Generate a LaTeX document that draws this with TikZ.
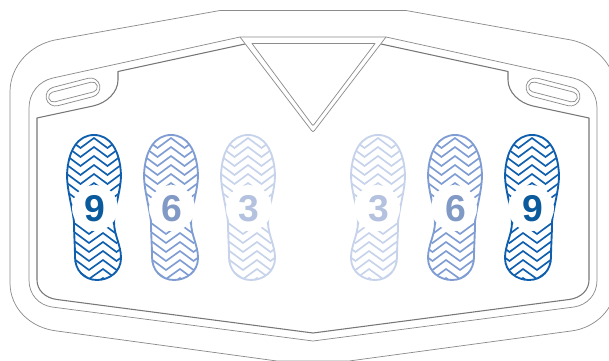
\documentclass[tikz,border=0pt]{standalone}
\usepackage{fontspec}
\setmainfont{Liberation Sans}
\definecolor{dkA}{HTML}{0F5FAE}
\definecolor{mdA}{HTML}{7F9DD3}
\definecolor{ltA}{HTML}{C6D3EB}
\definecolor{dkT}{HTML}{0A5A9C}
\definecolor{mdT}{HTML}{8199C5}
\definecolor{ltT}{HTML}{B4C2DF}
\definecolor{ln}{HTML}{8C8C8C}
\tikzset{
  thinline/.style={draw=ln,line width=0.55pt,line join=round},
  darkline/.style={draw=ln!85!black,line width=0.8pt,line join=round},
  badge/.style={fill=white,draw=none,circle,minimum size=34.5pt,inner sep=0pt},
  digit/.style={font=\fontsize{28pt}{29pt}\selectfont\bfseries,inner sep=0pt}
}
\newcommand{\soleoutline}{(0,135) .. controls (16,135) and (26,150) .. (27,175)
  .. controls (27,190) and (21,205) .. (20,222)
  .. controls (20,235) and (27,245) .. (27,258)
  .. controls (27,272) and (15,280) .. (3,280)
  .. controls (-10,280) and (-19,270) .. (-19,257)
  .. controls (-19,245) and (-20,235) .. (-20,222)
  .. controls (-22,205) and (-27,190) .. (-27,175)
  .. controls (-26,150) and (-16,135) .. (0,135) -- cycle}
\newcommand{\solebody}[1]{%
  \begin{scope}
    \clip \soleoutline;
    \foreach \yy in {129,138,...,215}{
      \draw[#1,line width=1.25pt,line join=miter]
        (-40.5,\yy+10) -- (-27,\yy) -- (-13.5,\yy+10) -- (0,\yy) -- (13.5,\yy+10) -- (27,\yy) -- (40.5,\yy+10);
    }
    \foreach \yy in {206,215,...,290}{
      \draw[#1,line width=1.25pt,line join=miter]
        (-32,\yy+10) -- (-18.5,\yy) -- (-5,\yy+10) -- (9,\yy) -- (22.5,\yy+10) -- (36,\yy);
    }
  \end{scope}
  \draw[#1,line width=1.4pt] \soleoutline;
}
\begin{document}
\begin{tikzpicture}[x=0.75pt,y=-0.75pt]
\useasboundingbox (0,0) rectangle (609,360);
\clip (0,0) rectangle (609,360);
% outer shell
\draw[thinline] (220,10.5) -- (406,10.5) -- (571,40)
  .. controls (596,45) and (616,66) .. (616,92) -- (616,283)
  .. controls (616,308) and (596,328) .. (571,331)
  -- (349,361) -- (277,361) -- (57,331)
  .. controls (30,328) and (10,308) .. (10,283) -- (10,92)
  .. controls (10,66) and (30,45) .. (55,40) -- cycle;
% middle line
\draw[thinline] (240,37) -- (386,37) -- (573,78)
  .. controls (587,81) and (597,93) .. (597,108) -- (597,280)
  .. controls (597,295) and (587,305) .. (574,307)
  -- (313,341) -- (52,307)
  .. controls (39,305) and (29,295) .. (29,280) -- (29,108)
  .. controls (29,93) and (39,81) .. (53,78) -- cycle;
% inner line
\draw[darkline] (245,44) -- (118,71.5) -- (118,80)
  .. controls (118,92) and (107,103) .. (93,106) -- (37,118) -- (37,280)
  .. controls (37,290) and (45,298) .. (57,299.5) -- (313,333) -- (569,299.5)
  .. controls (581,298) and (589,290) .. (589,280) -- (589,118) -- (533,106)
  .. controls (519,103) and (508,92) .. (508,80) -- (508,71.5) -- (381,44);
% triangle
\draw[thinline] (240,37) -- (311.5,130.5) .. controls (312.5,132) and (313.5,132) .. (314.5,130.5) -- (386,37);
\draw[thinline] (252,43.5) -- (375,43.5) -- (314,124.5) .. controls (313.5,125.5) and (312.5,125.5) .. (312,124.5) -- cycle;
% slots
\foreach \cx/\ang in {73/14.5,553/-14.5}{
  \begin{scope}[shift={(\cx,92)},rotate=\ang]
    \draw[thinline,rounded corners=7.1pt] (-27.5,-9.5) rectangle (27.5,9.5);
    \draw[thinline,rounded corners=3.7pt] (-25,-5) rectangle (25,5);
  \end{scope}
}
% soles
\foreach \sx/\sc/\tc/\dg/\nm in {94/dkA/dkT/9/a,171/mdA/mdT/6/b,248/ltA/ltT/3/c}{
  \begin{scope}[shift={(\sx,0)}]
    \solebody{\sc}
  \end{scope}
  \node[badge] (ca\nm) at (\sx+1,208) {};
  \node[digit,text=\tc] (ta\nm) at (\sx+0.5,208.5) {\dg};
}
\foreach \sx/\sc/\tc/\dg/\nm in {532/dkA/dkT/9/a,455/mdA/mdT/6/b,378/ltA/ltT/3/c}{
  \begin{scope}[shift={(\sx,0)},xscale=-1]
    \solebody{\sc}
  \end{scope}
  \node[badge] (cb\nm) at (\sx-1,208) {};
  \node[digit,text=\tc] (tb\nm) at (\sx+0.5,208.5) {\dg};
}
\end{tikzpicture}
\end{document}
